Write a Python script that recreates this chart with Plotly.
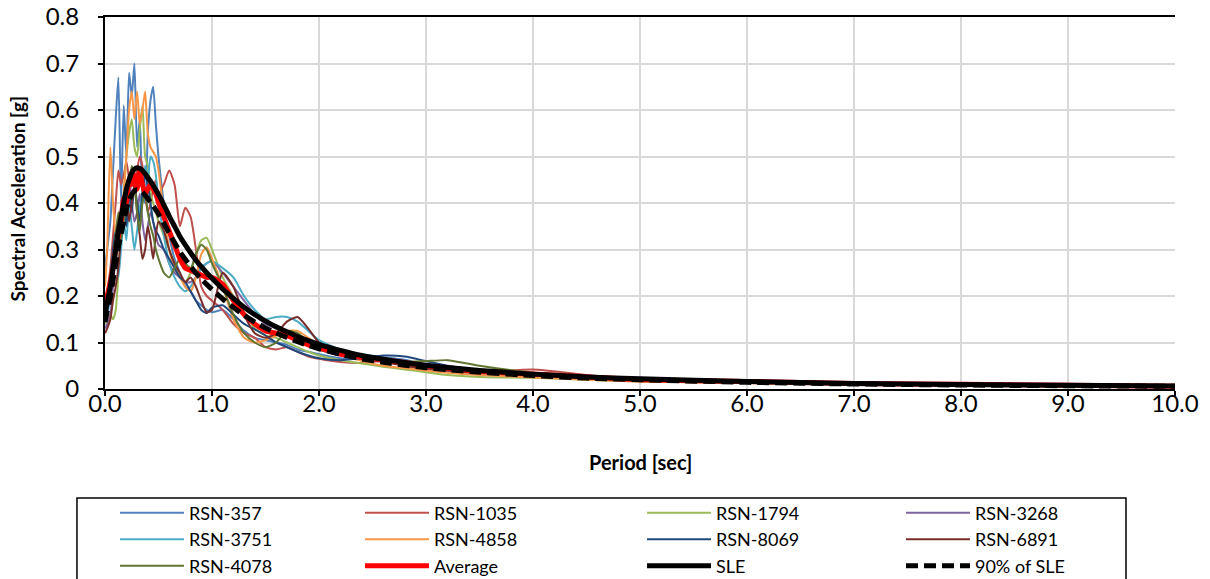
import plotly.graph_objects as go

# Periods (sec) shared by every spectrum
period = [0.0, 0.02, 0.05, 0.075, 0.1, 0.125, 0.15, 0.175, 0.2, 0.225, 0.25, 0.275,
          0.3, 0.325, 0.35, 0.375, 0.4, 0.425, 0.45, 0.475, 0.5, 0.55, 0.6, 0.65,
          0.7, 0.75, 0.8, 0.85, 0.9, 0.95, 1.0, 1.1, 1.2, 1.3, 1.4, 1.5, 1.6, 1.7,
          1.8, 1.9, 2.0, 2.2, 2.4, 2.6, 2.8, 3.0, 3.2, 3.5, 4.0, 4.5, 5.0, 6.0,
          7.0, 8.0, 9.0, 10.0]

# Spectral accelerations (g) of the scaled ground-motion records
rsn_357 = [0.26, 0.30, 0.36, 0.47, 0.58, 0.67, 0.40, 0.61, 0.50, 0.68, 0.63, 0.70,
           0.52, 0.58, 0.42, 0.40, 0.55, 0.62, 0.65, 0.57, 0.50, 0.40, 0.33, 0.28,
           0.25, 0.22, 0.21, 0.19, 0.18, 0.17, 0.165, 0.17, 0.15, 0.125, 0.11, 0.105,
           0.10, 0.095, 0.085, 0.08, 0.075, 0.066, 0.065, 0.068, 0.063, 0.052, 0.046,
           0.038, 0.031, 0.025, 0.02, 0.015, 0.012, 0.009, 0.007, 0.006]
rsn_1035 = [0.19, 0.21, 0.26, 0.33, 0.40, 0.47, 0.44, 0.46, 0.49, 0.45, 0.40, 0.44,
            0.47, 0.50, 0.48, 0.42, 0.38, 0.40, 0.43, 0.45, 0.42, 0.44, 0.47, 0.44,
            0.35, 0.39, 0.37, 0.30, 0.22, 0.20, 0.19, 0.17, 0.14, 0.12, 0.11, 0.09,
            0.085, 0.09, 0.08, 0.07, 0.065, 0.058, 0.056, 0.06, 0.055, 0.045, 0.038,
            0.036, 0.042, 0.03, 0.021, 0.016, 0.013, 0.01, 0.008, 0.007]
rsn_1794 = [0.14, 0.15, 0.16, 0.15, 0.17, 0.25, 0.35, 0.42, 0.50, 0.55, 0.58, 0.52,
            0.50, 0.56, 0.61, 0.50, 0.48, 0.42, 0.40, 0.38, 0.36, 0.33, 0.30, 0.27,
            0.24, 0.23, 0.25, 0.29, 0.32, 0.325, 0.30, 0.24, 0.20, 0.165, 0.13, 0.115,
            0.11, 0.10, 0.09, 0.08, 0.072, 0.062, 0.055, 0.048, 0.042, 0.036, 0.03,
            0.026, 0.024, 0.02, 0.016, 0.013, 0.01, 0.008, 0.006, 0.005]
rsn_3268 = [0.13, 0.14, 0.16, 0.22, 0.30, 0.36, 0.33, 0.38, 0.42, 0.46, 0.40, 0.36,
            0.38, 0.42, 0.36, 0.32, 0.35, 0.38, 0.36, 0.33, 0.31, 0.30, 0.27, 0.25,
            0.24, 0.23, 0.23, 0.24, 0.26, 0.27, 0.275, 0.25, 0.22, 0.19, 0.16, 0.14,
            0.13, 0.12, 0.11, 0.095, 0.085, 0.072, 0.065, 0.06, 0.05, 0.042, 0.037,
            0.032, 0.026, 0.022, 0.018, 0.014, 0.011, 0.009, 0.007, 0.006]
rsn_3751 = [0.15, 0.16, 0.20, 0.26, 0.30, 0.24, 0.30, 0.36, 0.32, 0.40, 0.35, 0.30,
            0.34, 0.39, 0.42, 0.48, 0.45, 0.50, 0.49, 0.46, 0.40, 0.33, 0.27, 0.24,
            0.22, 0.21, 0.22, 0.24, 0.26, 0.27, 0.275, 0.26, 0.24, 0.20, 0.17, 0.15,
            0.155, 0.155, 0.145, 0.125, 0.105, 0.085, 0.075, 0.068, 0.058, 0.05, 0.045,
            0.04, 0.033, 0.028, 0.022, 0.016, 0.012, 0.009, 0.007, 0.006]
rsn_4858 = [0.22, 0.30, 0.52, 0.40, 0.33, 0.30, 0.36, 0.42, 0.50, 0.60, 0.64, 0.58,
            0.64, 0.57, 0.60, 0.64, 0.55, 0.52, 0.51, 0.50, 0.47, 0.38, 0.30, 0.26,
            0.24, 0.22, 0.21, 0.24, 0.29, 0.305, 0.28, 0.22, 0.15, 0.11, 0.10, 0.105,
            0.115, 0.125, 0.125, 0.11, 0.095, 0.075, 0.06, 0.05, 0.045, 0.04, 0.035,
            0.03, 0.025, 0.02, 0.016, 0.013, 0.01, 0.008, 0.006, 0.005]
rsn_8069 = [0.18, 0.20, 0.24, 0.30, 0.34, 0.30, 0.36, 0.40, 0.35, 0.42, 0.38, 0.44,
            0.40, 0.36, 0.42, 0.46, 0.44, 0.40, 0.36, 0.34, 0.33, 0.30, 0.28, 0.26,
            0.24, 0.23, 0.21, 0.19, 0.17, 0.163, 0.175, 0.18, 0.16, 0.14, 0.128, 0.115,
            0.10, 0.09, 0.08, 0.072, 0.066, 0.062, 0.066, 0.072, 0.07, 0.06, 0.05,
            0.04, 0.03, 0.025, 0.02, 0.015, 0.012, 0.009, 0.007, 0.006]
rsn_6891 = [0.12, 0.13, 0.15, 0.19, 0.22, 0.26, 0.33, 0.38, 0.42, 0.36, 0.40, 0.44,
            0.38, 0.33, 0.28, 0.30, 0.35, 0.32, 0.28, 0.33, 0.36, 0.34, 0.30, 0.27,
            0.25, 0.23, 0.24, 0.22, 0.19, 0.165, 0.17, 0.25, 0.22, 0.16, 0.12, 0.11,
            0.12, 0.145, 0.155, 0.13, 0.10, 0.078, 0.065, 0.058, 0.05, 0.044, 0.04,
            0.035, 0.03, 0.025, 0.02, 0.016, 0.013, 0.01, 0.008, 0.007]
rsn_4078 = [0.17, 0.18, 0.22, 0.28, 0.33, 0.38, 0.32, 0.36, 0.40, 0.44, 0.48, 0.45,
            0.38, 0.34, 0.40, 0.42, 0.38, 0.35, 0.33, 0.30, 0.28, 0.25, 0.24, 0.26,
            0.28, 0.27, 0.26, 0.29, 0.31, 0.30, 0.27, 0.22, 0.16, 0.12, 0.10, 0.09,
            0.10, 0.125, 0.12, 0.10, 0.085, 0.075, 0.068, 0.06, 0.058, 0.06, 0.062,
            0.05, 0.035, 0.028, 0.021, 0.016, 0.012, 0.009, 0.007, 0.006]

# Mean of the suite and the target spectra
average = [0.17, 0.20, 0.23, 0.26, 0.30, 0.33, 0.36, 0.41, 0.40, 0.45, 0.44, 0.46,
           0.43, 0.47, 0.44, 0.42, 0.43, 0.44, 0.43, 0.42, 0.40, 0.37, 0.34, 0.31,
           0.28, 0.26, 0.255, 0.25, 0.245, 0.24, 0.24, 0.225, 0.19, 0.16, 0.14, 0.125,
           0.12, 0.115, 0.105, 0.095, 0.088, 0.075, 0.068, 0.063, 0.057, 0.05, 0.045,
           0.038, 0.032, 0.026, 0.02, 0.016, 0.012, 0.01, 0.008, 0.006]
sle = [0.16, 0.185, 0.22, 0.26, 0.30, 0.34, 0.37, 0.40, 0.43, 0.45, 0.465, 0.473,
       0.476, 0.474, 0.47, 0.463, 0.455, 0.447, 0.438, 0.428, 0.418, 0.396, 0.372,
       0.35, 0.328, 0.31, 0.293, 0.277, 0.263, 0.25, 0.238, 0.215, 0.195, 0.176,
       0.16, 0.146, 0.134, 0.123, 0.113, 0.104, 0.096, 0.083, 0.072, 0.064, 0.057,
       0.051, 0.046, 0.04, 0.032, 0.026, 0.022, 0.016, 0.012, 0.0095, 0.0078, 0.0065]
sle_90 = [0.144, 0.1665, 0.198, 0.234, 0.27, 0.306, 0.333, 0.36, 0.387, 0.405,
          0.4185, 0.4257, 0.4284, 0.4266, 0.423, 0.4167, 0.4095, 0.4023, 0.3942,
          0.3852, 0.3762, 0.3564, 0.3348, 0.315, 0.2952, 0.279, 0.2637, 0.2493,
          0.2367, 0.225, 0.2142, 0.1935, 0.1755, 0.1584, 0.144, 0.1314, 0.1206,
          0.1107, 0.1017, 0.0936, 0.0864, 0.0747, 0.0648, 0.0576, 0.0513, 0.0459,
          0.0414, 0.036, 0.0288, 0.0234, 0.0198, 0.0144, 0.0108, 0.00855, 0.00702,
          0.00585]

x_ticks = [0, 1, 2, 3, 4, 5, 6, 7, 8, 9, 10]
x_labels = ["0.0", "1.0", "2.0", "3.0", "4.0", "5.0", "6.0", "7.0", "8.0", "9.0", "10.0"]
y_ticks = [0, 0.1, 0.2, 0.3, 0.4, 0.5, 0.6, 0.7, 0.8]
y_labels = ["0", "0.1", "0.2", "0.3", "0.4", "0.5", "0.6", "0.7", "0.8"]

FONT = "Lato"

# (name, values, colour, width, dash, legend column)
records = [
    ("RSN-357", rsn_357, "#4F81BD", 2, "solid", "legend"),
    ("RSN-1035", rsn_1035, "#C0504D", 2, "solid", "legend2"),
    ("RSN-1794", rsn_1794, "#9BBB59", 2, "solid", "legend3"),
    ("RSN-3268", rsn_3268, "#8064A2", 2, "solid", "legend4"),
    ("RSN-3751", rsn_3751, "#4BACC6", 2, "solid", "legend"),
    ("RSN-4858", rsn_4858, "#F79646", 2, "solid", "legend2"),
    ("RSN-8069", rsn_8069, "#1F497D", 2, "solid", "legend3"),
    ("RSN-6891", rsn_6891, "#772C2A", 2, "solid", "legend4"),
    ("RSN-4078", rsn_4078, "#5F7530", 2, "solid", "legend"),
    ("Average", average, "#FF0000", 5, "solid", "legend2"),
    ("SLE", sle, "#000000", 5, "solid", "legend3"),
    ("90% of SLE", sle_90, "#000000", 5, "12px,6px", "legend4"),
]

fig = go.Figure()
for name, vals, color, width, dash, leg in records:
    fig.add_trace(go.Scatter(
        x=period, y=vals, name=name, mode="lines",
        line=dict(color=color, width=width, dash=dash, shape="spline", smoothing=0.6),
        legend=leg,
    ))

axis_common = dict(
    showgrid=True, gridcolor="#D9D9D9", gridwidth=2,
    showline=True, linecolor="#000000", linewidth=2,
    ticks="outside", ticklen=5, tickwidth=2, tickcolor="#000000",
    zeroline=False,
    tickfont=dict(family=FONT, size=24, color="#000000"),
)

fig.update_xaxes(range=[0, 10], tickvals=x_ticks, ticktext=x_labels, mirror=True,
                 ticklabelstandoff=-13, **axis_common)
fig.update_yaxes(range=[0, 0.8], tickvals=y_ticks, ticktext=y_labels,
                 ticklabelstandoff=14, **axis_common)

# One vertical legend per column of the key
legend_style = dict(
    orientation="v", y=-0.284, yanchor="top", xanchor="left",
    itemwidth=64, font=dict(family=FONT, size=18, color="#000000"),
    bgcolor="rgba(0,0,0,0)", borderwidth=0, traceorder="normal",
)

fig.update_layout(
    width=1210, height=579,
    margin=dict(l=105, r=35, t=17, b=190, autoexpand=False),
    paper_bgcolor="white", plot_bgcolor="white",
    font=dict(family=FONT, color="#000000"),
    showlegend=True,
    legend=dict(x=0.0093, **legend_style),
    legend2=dict(x=0.2383, **legend_style),
    legend3=dict(x=0.5019, **legend_style),
    legend4=dict(x=0.7439, **legend_style),
    annotations=[
        dict(text="<b>Spectral Acceleration [g]</b>", xref="paper", yref="paper",
             x=-0.0813, y=0.512, xanchor="center", yanchor="middle", textangle=-90,
             showarrow=False, font=dict(family=FONT, size=19, color="#000000")),
        dict(text="<b>Period [sec]</b>", xref="paper", yref="paper",
             x=0.5, y=-0.196, xanchor="center", yanchor="middle",
             showarrow=False, font=dict(family=FONT, size=20, color="#000000")),
    ],
    shapes=[
        dict(type="rect", xref="paper", yref="paper",
             x0=-0.0262, x1=0.9542, y0=-0.293, y1=-0.52,
             line=dict(color="#000000", width=1.5), fillcolor="rgba(0,0,0,0)"),
    ],
)

fig.write_html("out.html")
